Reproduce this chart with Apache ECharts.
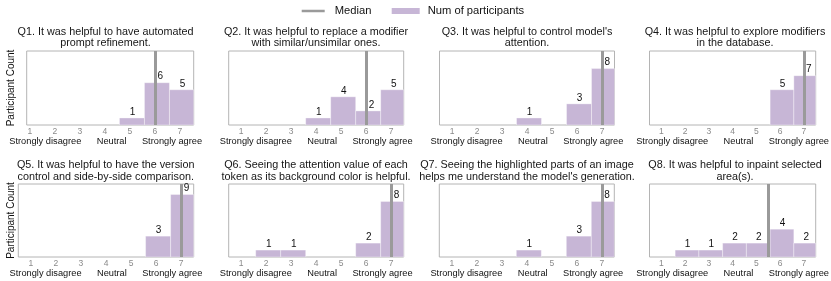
<!DOCTYPE html>
<html>
<head>
<meta charset="utf-8">
<script src="https://cdn.jsdelivr.net/npm/echarts@6/dist/echarts.min.js"></script>
<style>html,body{margin:0;padding:0;background:#fff}#c{width:831px;height:281px}</style>
</head>
<body>
<div id="c"></div>
<script>
// ---- data ----
const scores = [1, 2, 3, 4, 5, 6, 7];
const q1 = [0, 0, 0, 0, 1, 6, 5];
const q2 = [0, 0, 0, 1, 4, 2, 5];
const q3 = [0, 0, 0, 1, 0, 3, 8];
const q4 = [0, 0, 0, 0, 0, 5, 7];
const q5 = [0, 0, 0, 0, 0, 3, 9];
const q6 = [0, 1, 1, 0, 0, 2, 8];
const q7 = [0, 0, 0, 1, 0, 3, 8];
const q8 = [0, 1, 1, 2, 2, 4, 2];
const medians = [6, 6, 7, 7, 7, 7, 7, 5.5];
const titles = [
  'Q1. It was helpful to have automated\nprompt refinement.',
  'Q2. It was helpful to replace a modifier\nwith similar/unsimilar ones.',
  "Q3. It was helpful to control model's\nattention.",
  'Q4. It was helpful to explore modifiers\nin the database.',
  'Q5. It was helpful to have the version\ncontrol and side-by-side comparison.',
  'Q6. Seeing the attention value of each\ntoken as its background color is helpful.',
  "Q7. Seeing the highlighted parts of an image\nhelps me understand the model's generation.",
  'Q8. It was helpful to inpaint selected\narea(s).'
];
const xLabelText = 'Strongly disagree      Neutral      Strongly agree';
const yLabelText = 'Participant Count';
const seriesValues = [q1, q2, q3, q4, q5, q6, q7, q8];

// ---- layout / style ----
const FONT = 'Liberation Sans, Arial, Helvetica, sans-serif';
const BAR_COLOR = '#c7b6d6';
const MED_COLOR = '#9a9a9a';
const BAR_SHIFT = 0.08;
const LABEL_SHIFT = 0.1;
const LABEL_SHIFT_NEAR_MEDIAN = 0.21;
const panels = [
  {left: 26.7, top: 51, width: 167, height: 74, xmin: 0.87, xmax: 7.55, tx: 105.5},
  {left: 228.7, top: 51, width: 175, height: 74, xmin: 0.5, xmax: 7.5, tx: 316},
  {left: 439.5, top: 51, width: 175, height: 74, xmin: 0.5, xmax: 7.5, tx: 527},
  {left: 649.5, top: 51, width: 175, height: 74, xmin: 0.5, xmax: 7.5, tx: 735},
  {left: 18.3, top: 184, width: 175.4, height: 73, xmin: 0.5, xmax: 7.5, tx: 105.7},
  {left: 228.7, top: 184, width: 175, height: 73, xmin: 0.5, xmax: 7.5, tx: 316},
  {left: 439.3, top: 184, width: 175, height: 73, xmin: 0.5, xmax: 7.5, tx: 527},
  {left: 649.5, top: 184, width: 175, height: 73, xmin: 0.5, xmax: 7.5, tx: 735}
];
const titleTops = [25.8, 159.3];

const grid = [], xAxis = [], yAxis = [], series = [], title = [];
panels.forEach((p, i) => {
  grid.push({left: p.left, top: p.top, width: p.width, height: p.height,
    show: true, borderColor: '#b4b4b4', borderWidth: 1, backgroundColor: 'transparent'});
  xAxis.push({
    gridIndex: i, type: 'value', min: p.xmin, max: p.xmax,
    axisLine: {show: false}, axisTick: {show: false}, splitLine: {show: false},
    axisLabel: {customValues: scores, margin: 2, fontSize: 8.5, color: '#8a8a8a', fontFamily: FONT},
    name: xLabelText, nameLocation: 'middle', nameGap: 10,
    nameTextStyle: {fontSize: 9.25, color: '#111', fontFamily: FONT, padding: i === 0 ? [0, 9, 0, 0] : 0}
  });
  const showY = (i % 4 === 0);
  yAxis.push({
    gridIndex: i, type: 'value', min: 0, max: 10.5, show: showY,
    axisLine: {show: false}, axisTick: {show: false}, splitLine: {show: false}, axisLabel: {show: false},
    name: showY ? yLabelText : '', nameLocation: 'middle', nameRotate: 90,
    nameGap: i === 0 ? 10 : 2,
    nameTextStyle: {fontSize: 10, color: '#111', fontFamily: FONT}
  });
  title.push({
    text: titles[i], left: p.tx, top: titleTops[i < 4 ? 0 : 1], textAlign: 'center', padding: 0,
    textStyle: {fontSize: 10.8, fontWeight: 'normal', color: '#161616', lineHeight: 11.5, fontFamily: FONT}
  });
  const pts = scores.map((s, j) => [s, seriesValues[i][j]]);
  const med = medians[i];
  series.push({
    type: 'custom', name: 'Num of participants', xAxisIndex: i, yAxisIndex: i,
    clip: true, itemStyle: {color: BAR_COLOR}, z: 2,
    data: pts,
    renderItem: function (params, api) {
      const x = api.value(0), v = api.value(1);
      if (!v) return null;
      const p0 = api.coord([x - 0.5 + BAR_SHIFT, v]);
      const p1 = api.coord([x + 0.5 + BAR_SHIFT, 0]);
      const cs = params.coordSys;
      const l = Math.max(p0[0], cs.x), r = Math.min(p1[0], cs.x + cs.width);
      return {type: 'rect', shape: {x: l, y: p0[1], width: r - l, height: p1[1] - p0[1]},
        style: {fill: BAR_COLOR, stroke: 'rgba(255,255,255,0.45)', lineWidth: 0.8}};
    }
  });
  series.push({
    type: 'line', name: 'Median', xAxisIndex: i, yAxisIndex: i, data: [], z: 5,
    color: MED_COLOR, lineStyle: {color: MED_COLOR},
    markLine: {
      silent: true, symbol: 'none', animation: false,
      label: {show: false},
      lineStyle: {color: MED_COLOR, width: 3, type: 'solid', opacity: 1},
      data: [{xAxis: med}]
    }
  });
  series.push({
    type: 'custom', name: 'counts', xAxisIndex: i, yAxisIndex: i, z: 10, clip: false,
    data: pts,
    renderItem: function (params, api) {
      const x = api.value(0), v = api.value(1);
      if (!v) return null;
      const sh = Math.abs(x - med) < 0.3 ? LABEL_SHIFT_NEAR_MEDIAN : LABEL_SHIFT;
      const pc = api.coord([x + sh, v]);
      return {type: 'text', x: pc[0], y: pc[1] - 1,
        style: {text: String(v), align: 'center', verticalAlign: 'bottom',
          font: '10px ' + FONT, fill: '#111'}};
    }
  });
});

const chart = echarts.init(document.getElementById('c'), null, {renderer: 'canvas'});
chart.setOption({
  animation: false,
  title: title,
  legend: [
    {data: ['Median'], left: 301.7, top: 5.5, padding: 0, icon: 'rect', itemWidth: 23, itemHeight: 2.5,
     itemStyle: {color: MED_COLOR},
     textStyle: {fontSize: 11.2, color: '#111', fontFamily: FONT, padding: [0, 0, 0, 5]}},
    {data: ['Num of participants'], left: 391.7, top: 5.5, padding: 0, icon: 'rect', itemWidth: 28, itemHeight: 6,
     itemStyle: {color: BAR_COLOR},
     textStyle: {fontSize: 11.2, color: '#111', fontFamily: FONT, padding: [0, 0, 0, 3]}}
  ],
  grid: grid, xAxis: xAxis, yAxis: yAxis, series: series
});
</script>
</body>
</html>
